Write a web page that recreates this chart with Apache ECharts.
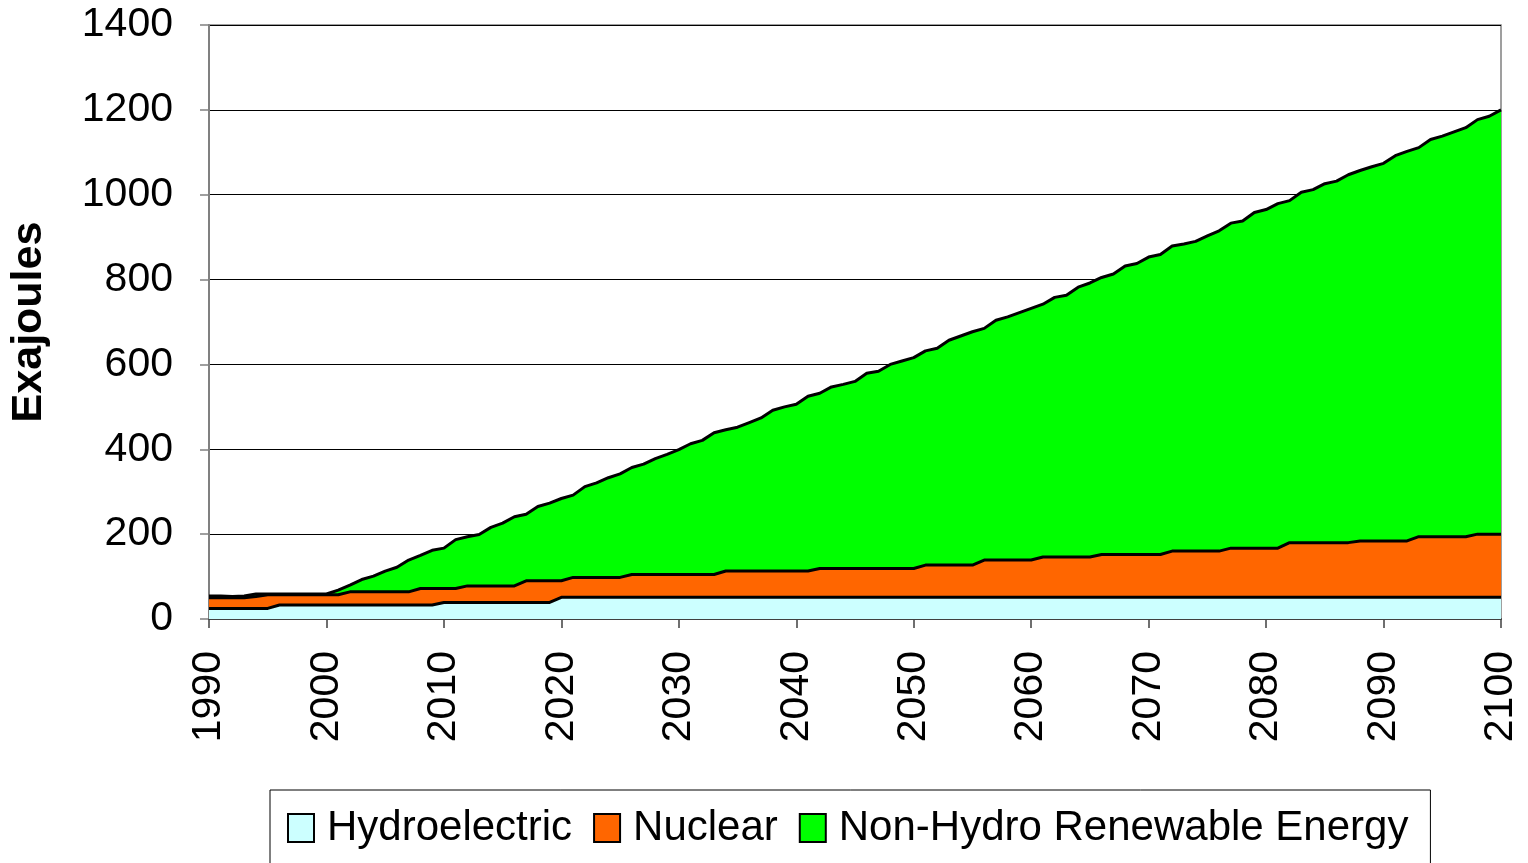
<!DOCTYPE html>
<html>
<head>
<meta charset="utf-8">
<script src="https://cdn.jsdelivr.net/npm/echarts@6/dist/echarts.min.js"></script>
<style>
  html, body { margin: 0; padding: 0; background: #fff; }
  #chart { width: 1528px; height: 863px; }
</style>
</head>
<body>
<div id="chart"></div>
<script>
// years 1990..2100 (one category per year)
const years = []
for (let y = 1990; y <= 2100; y++) years.push(String(y))

const yTicks = [0, 200, 400, 600, 800, 1000, 1200, 1400]

// Exajoules per year, stacked bottom to top
const hydro = [
  25, 25, 25, 25, 25, 25, 33, 33, 33, 33,
  33, 33, 33, 33, 33, 33, 33, 33, 33, 33,
  39, 39, 39, 39, 39, 39, 39, 39, 39, 39,
  51, 51, 51, 51, 51, 51, 51, 51, 51, 51,
  51, 51, 51, 51, 51, 51, 51, 51, 51, 51,
  51, 51, 51, 51, 51, 51, 51, 51, 51, 51,
  51, 51, 51, 51, 51, 51, 51, 51, 51, 51,
  51, 51, 51, 51, 51, 51, 51, 51, 51, 51,
  51, 51, 51, 51, 51, 51, 51, 51, 51, 51,
  51, 51, 51, 51, 51, 51, 51, 51, 51, 51,
  51, 51, 51, 51, 51, 51, 51, 51, 51, 51,
  51
]

const nuclear = [
  25, 25, 25, 25, 28, 32, 24, 24, 24, 24,
  24, 24, 31, 31, 31, 31, 31, 31, 39, 39,
  33, 33, 39, 39, 39, 39, 39, 51, 51, 51,
  39, 47, 47, 47, 47, 47, 54, 54, 54, 54,
  54, 54, 54, 54, 62, 62, 62, 62, 62, 62,
  62, 62, 68, 68, 68, 68, 68, 68, 68, 68,
  68, 76, 76, 76, 76, 76, 88, 88, 88, 88,
  88, 95, 95, 95, 95, 95, 101, 101, 101, 101,
  101, 101, 109, 109, 109, 109, 109, 116, 116, 116,
  116, 116, 129, 129, 129, 129, 129, 129, 133, 133,
  133, 133, 133, 143, 143, 143, 143, 143, 149, 149,
  149
]

const renewable = [
  4, 4, 3, 4, 6, 2, 2, 2, 2, 2,
  2, 11, 16, 29, 37, 49, 58, 75, 78, 90,
  95, 115, 116, 121, 138, 148, 163, 157, 175, 183,
  194, 194, 214, 223, 235, 244, 252, 260, 273, 283,
  294, 308, 316, 334, 333, 339, 350, 361, 379, 387,
  393, 412, 413, 428, 434, 441, 460, 465, 481, 489,
  497, 505, 511, 530, 540, 550, 546, 565, 573, 583,
  593, 596, 612, 617, 636, 646, 653, 661, 680, 686,
  701, 707, 719, 724, 730, 743, 755, 766, 771, 791,
  798, 812, 806, 826, 832, 846, 852, 867, 873, 882,
  890, 908, 918, 917, 936, 944, 954, 964, 977, 985,
  1000
]

const font = 'Liberation Sans, Arial, sans-serif'

function areaSeries(name, data, color, z) {
  return {
    name: name,
    type: 'line',
    stack: 'total',
    data: data,
    z: z,
    symbol: 'none',
    color: color,
    lineStyle: { color: '#000', width: 3 },
    areaStyle: { color: color, opacity: 1 },
    emphasis: { disabled: true }
  }
}

const chart = echarts.init(document.getElementById('chart'))
chart.setOption({
  animation: false,
  backgroundColor: '#fff',
  grid: {
    left: 208, top: 25, width: 1293, height: 594,
    show: true, borderColor: '#808080', borderWidth: 1.5
  },
  legend: {
    left: 270, top: 790,
    padding: [17, 22, 40, 17],
    borderColor: '#000', borderWidth: 1,
    icon: 'rect',
    itemWidth: 26, itemHeight: 28, itemGap: 21,
    itemStyle: { borderColor: '#000', borderWidth: 2 },
    textStyle: { fontFamily: font, fontSize: 42, color: '#000', padding: [0, 0, 0, 8] },
    data: ['Hydroelectric', 'Nuclear', 'Non-Hydro Renewable Energy']
  },
  xAxis: {
    type: 'category',
    data: years,
    boundaryGap: false,
    axisLine: { lineStyle: { color: '#404040', width: 2 } },
    axisTick: { interval: 9, length: 9, lineStyle: { color: '#404040', width: 1.5 } },
    axisLabel: {
      interval: 9, rotate: 90, margin: 32,
      fontFamily: font, fontSize: 41, color: '#000'
    },
    splitLine: { show: false }
  },
  yAxis: {
    type: 'value',
    min: yTicks[0], max: yTicks[yTicks.length - 1], interval: 200,
    name: 'Exajoules',
    nameLocation: 'middle',
    nameGap: 158,
    nameTextStyle: { fontFamily: font, fontSize: 43, fontWeight: 'bold', color: '#000' },
    axisLine: { show: true, lineStyle: { color: '#808080', width: 2 } },
    axisTick: { show: true, length: 9, lineStyle: { color: '#808080', width: 1.5 } },
    axisLabel: {
      margin: 36, fontFamily: font, fontSize: 41, color: '#000',
      formatter: v => String(v)
    },
    splitLine: { lineStyle: { color: '#000', width: 1 } }
  },
  series: [
    areaSeries('Hydroelectric', hydro, '#ccffff', 5),
    areaSeries('Nuclear', nuclear, '#ff6600', 4),
    areaSeries('Non-Hydro Renewable Energy', renewable, '#00ff00', 3)
  ]
})
</script>
</body>
</html>
